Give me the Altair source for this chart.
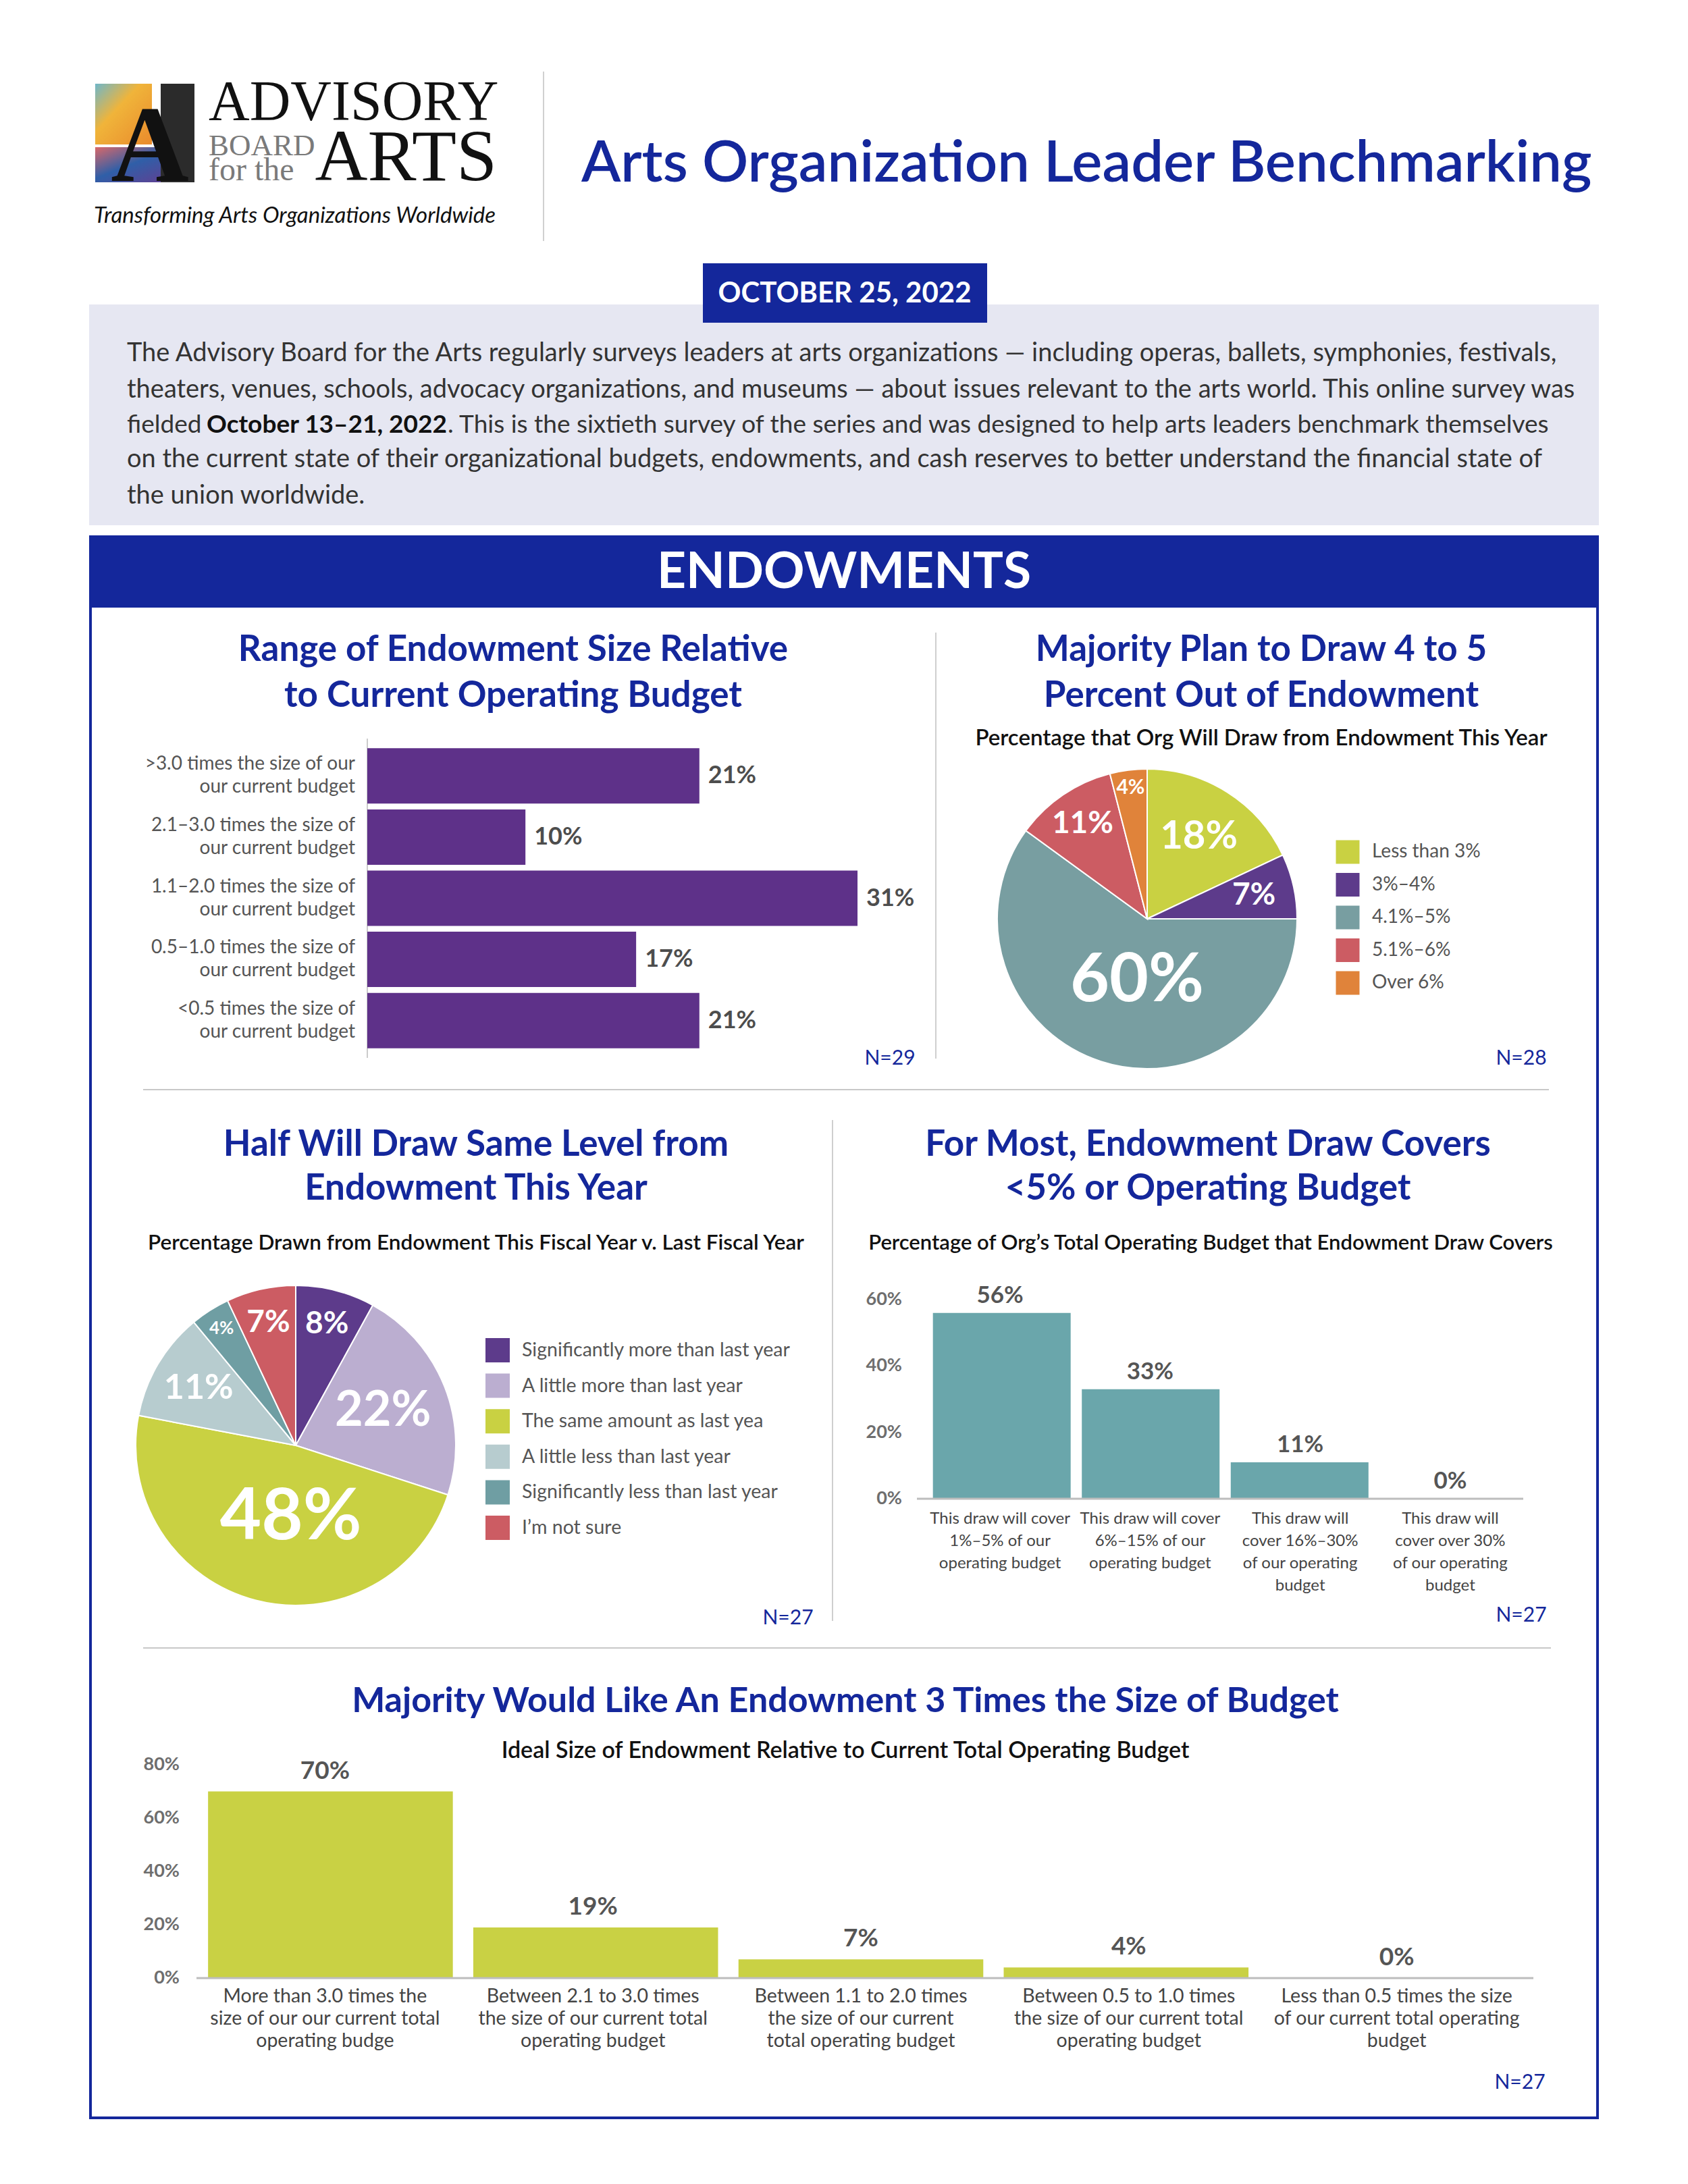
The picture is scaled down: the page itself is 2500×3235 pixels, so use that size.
import math
import pandas as pd
import altair as alt

FONT = "Lato"
SERIF = "Liberation Serif"
BLUE = "#14279b"
TXT = "#333333"
GREY_LBL = "#555555"
OFF = 8
W, H = 2484, 3219

# ---------------- data ----------------
c1_cats = [
    ">3.0 times the size of our|our current budget",
    "2.1–3.0 times the size of|our current budget",
    "1.1–2.0 times the size of|our current  budget",
    "0.5–1.0 times the size of|our current budget",
    "<0.5 times the size of|our current budget",
]
c1_vals = [21, 10, 31, 17, 21]

p2_cats = ["Less than 3%", "3%–4%", "4.1%–5%", "5.1%–6%", "Over 6%"]
p2_vals = [18, 7, 60, 11, 4]
p2_colors = ["#c9d142", "#5d3b8b", "#789ea1", "#cc5c63", "#e0833a"]

p3_cats = [
    "Significantly more than last year",
    "A little more than last year",
    "The same amount as last yea",
    "A little less than last year",
    "Significantly less than last year",
    "I’m not sure",
]
p3_vals = [8, 22, 48, 11, 4, 7]
p3_colors = ["#5d3b8b", "#bbaed0", "#c9d142", "#b7cccf", "#6f9ea3", "#cc5c63"]

c4_cats = [
    "This draw will cover|1%–5% of our|operating budget",
    "This draw will cover|6%–15% of our|operating budget",
    "This draw will|cover 16%–30%|of our operating|budget",
    "This draw will|cover over 30%|of our operating|budget",
]
c4_vals = [56, 33, 11, 0]
c4_ticks = [0, 20, 40, 60]

c5_cats = [
    "More than 3.0 times the|size of our our current total|operating budge",
    "Between 2.1 to 3.0 times|the size of our current total|operating budget",
    "Between 1.1 to 2.0 times|the size of our current|total operating budget",
    "Between 0.5 to 1.0 times|the size of our current total|operating budget",
    "Less than 0.5 times the size|of our current total operating|budget",
]
c5_vals = [70, 19, 7, 4, 0]
c5_ticks = [0, 20, 40, 60, 80]

intro_lines = [
    "The Advisory Board for the Arts regularly surveys leaders at arts organizations — including  operas, ballets, symphonies, festivals,",
    "theaters, venues, schools, advocacy organizations, and museums — about issues relevant to the arts world. This online survey was",
    None,
    "on the current state of their organizational budgets, endowments, and cash reserves to better understand the financial state of",
    "the union worldwide.",
]

ONE = pd.DataFrame({"k": [0]})


def P(v):
    return v - OFF


def text(s, x, y, size, color=TXT, weight="normal", align="center",
         baseline="alphabetic", font=FONT, style="normal"):
    return alt.Chart(ONE).mark_text(
        text=s, fontSize=size, color=color, fontWeight=weight, align=align,
        baseline=baseline, font=font, fontStyle=style,
    ).encode(x=alt.value(P(x)), y=alt.value(P(y)))


def rect(x1, y1, x2, y2, **kw):
    return alt.Chart(ONE).mark_rect(**kw).encode(
        x=alt.value(P(x1)), x2=alt.value(P(x2)),
        y=alt.value(P(y1)), y2=alt.value(P(y2)))


def rule(x1, y1, x2, y2, color="#cfcfcf", width=2):
    return alt.Chart(ONE).mark_rule(color=color, strokeWidth=width).encode(
        x=alt.value(P(x1)), x2=alt.value(P(x2)),
        y=alt.value(P(y1)), y2=alt.value(P(y2)))


layers = []

# ---------------- header ----------------
grad_top = alt.LinearGradient(
    gradient="linear",
    stops=[alt.GradientStop(color="#6fb7c9", offset=0),
           alt.GradientStop(color="#f0b43a", offset=0.4),
           alt.GradientStop(color="#e98a2c", offset=1)],
    x1=0, x2=1, y1=0, y2=1)
grad_bot = alt.LinearGradient(
    gradient="linear",
    stops=[alt.GradientStop(color="#d9686a", offset=0),
           alt.GradientStop(color="#2f5fa8", offset=0.45),
           alt.GradientStop(color="#6a3a8e", offset=1)],
    x1=0, x2=1, y1=0, y2=1)
layers += [
    rect(141, 124, 225, 214, fill=grad_top),
    rect(141, 218, 270, 270, fill=grad_bot),
    rect(238, 124, 288, 270, fill="#2b2b2b"),
    text("A", 222, 268, 160, color="#111111", weight="bold", font=SERIF),
    text("ADVISORY", 309, 178, 84, color="#111111", align="left", font=SERIF),
    text("BOARD", 309, 230, 45, color="#7a7a7a", align="left", font=SERIF),
    text("for the", 309, 267, 48, color="#7a7a7a", align="left", font=SERIF),
    text("ARTS", 736, 267, 108, color="#111111", align="right", font=SERIF),
    text("Transforming Arts Organizations Worldwide", 139, 330, 33,
         color="#111111", align="left", style="italic"),
    rule(805, 106, 805, 357, color="#d0d0d0", width=2),
    text("Arts Organization Leader Benchmarking", 861, 269, 85, color=BLUE,
         weight=600, align="left"),
]

# intro box
layers += [
    rect(132, 451, 2368, 778, color="#e6e7f2"),
    rect(1041, 390, 1462, 478, color=BLUE),
    text("OCTOBER 25, 2022", 1251, 435, 42, color="white", weight="bold",
         baseline="middle"),
]
intro_y = [524, 578, 630, 681, 735]
for s, yy in zip(intro_lines, intro_y):
    if s is not None:
        layers.append(text(s, 188, yy, 38, color=TXT, align="left", baseline="middle"))
layers += [
    text("fielded", 188, intro_y[2], 37, color=TXT, align="left", baseline="middle"),
    text("October 13–21, 2022", 306, intro_y[2], 37, color="#111111", weight="bold",
         align="left", baseline="middle"),
    text(". This is the sixtieth survey of the series and was designed to help arts leaders benchmark themselves",
         663, intro_y[2], 37, color=TXT, align="left", baseline="middle"),
]

# banner + frame
layers += [
    rect(132, 793, 2368, 900, color=BLUE),
    text("ENDOWMENTS", 1250, 848, 75, color="white", weight="bold", baseline="middle"),
    rect(134, 898, 2366, 3137, fill="white", fillOpacity=0, stroke=BLUE, strokeWidth=4),
    rule(1386, 937, 1386, 1568),
    rule(212, 1614, 2294, 1614, color="#c8c8c8"),
    rule(1233, 1659, 1233, 2401),
    rule(212, 2441, 2297, 2441, color="#c8c8c8"),
]

TITLE = 53

# ---------------- chart 1 ----------------
d1 = pd.DataFrame({"cat": c1_cats, "v": c1_vals})
y1s = alt.Scale(domain=c1_cats, range=[P(1104), P(1557)], paddingInner=0.095, paddingOuter=0.0475)
x1s = alt.Scale(domain=[0, 31], range=[P(544), P(1270)], nice=False, zero=True)
layers += [
    text("Range of Endowment Size Relative", 760, 979, TITLE, color=BLUE, weight="bold"),
    text("to Current Operating Budget", 760, 1047, TITLE, color=BLUE, weight="bold"),
    rule(544, 1094, 544, 1567, color="#cccccc", width=2),
    alt.Chart(d1).mark_bar(color="#5e3189").encode(
        y=alt.Y("cat:N", scale=y1s, axis=None),
        x=alt.X("v:Q", scale=x1s, axis=None)),
    alt.Chart(d1).transform_calculate(lines="split(datum.cat, '|')").mark_text(
        align="right", baseline="middle", dy=-17, fontSize=28, color=GREY_LBL, font=FONT,
        lineHeight=34).encode(
        y=alt.Y("cat:N", scale=y1s, axis=None), x=alt.value(P(526)), text="lines:N"),
    alt.Chart(d1).transform_calculate(lab="datum.v + '%'").mark_text(
        align="left", baseline="middle", dx=13, fontSize=36, fontWeight="bold",
        color="#4d4d4d", font=FONT).encode(
        y=alt.Y("cat:N", scale=y1s, axis=None),
        x=alt.X("v:Q", scale=x1s, axis=None), text="lab:N"),
    text("N=29", 1318, 1568, 30, color=BLUE, baseline="middle"),
]


# ---------------- pies ----------------
def pie(cats, vals, colors, cx, cy, r, label_style, leg_x, leg_top, leg_bot, leg_size, leg_font):
    df = pd.DataFrame({"cat": cats, "v": vals, "i": list(range(len(cats)))})
    cs = alt.Scale(domain=cats, range=colors)
    out = [
        alt.Chart(df).mark_arc(radius=r, stroke="white", strokeWidth=2).encode(
            theta=alt.Theta("v:Q", stack=True),
            order=alt.Order("i:Q"),
            color=alt.Color("cat:N", scale=cs, legend=None),
            x=alt.value(P(cx)), y=alt.value(P(cy)))
    ]
    for cat, (rad, size, dx) in zip(cats, label_style):
        out.append(
            alt.Chart(df)
            .transform_window(cum="sum(v)", sort=[alt.SortField("i", order="ascending")])
            .transform_calculate(mid="datum.cum - datum.v / 2", lab="datum.v + '%'")
            .transform_filter(alt.datum.cat == cat)
            .mark_text(radius=rad, fontSize=size, fontWeight="bold", color="white",
                       font=FONT, align="center", baseline="middle", dx=dx)
            .encode(theta=alt.Theta("mid:Q", scale=alt.Scale(domain=[0, 100]), stack=False),
                    text="lab:N", x=alt.value(P(cx)), y=alt.value(P(cy))))
    ls = alt.Scale(type="point", domain=cats, range=[P(leg_top), P(leg_bot)], padding=0)
    out += [
        alt.Chart(df).mark_square(size=leg_size, opacity=1).encode(
            x=alt.value(P(leg_x)), y=alt.Y("cat:N", scale=ls, axis=None),
            color=alt.Color("cat:N", scale=cs, legend=None)),
        alt.Chart(df).mark_text(align="left", baseline="middle", fontSize=leg_font,
                                color=GREY_LBL, font=FONT).encode(
            x=alt.value(P(leg_x + 36)), y=alt.Y("cat:N", scale=ls, axis=None), text="cat:N"),
    ]
    return out


layers += [
    text("Majority Plan to Draw 4 to 5", 1868, 979, TITLE, color=BLUE, weight="bold"),
    text("Percent Out of Endowment", 1868, 1047, TITLE, color=BLUE, weight="bold"),
    text("Percentage that Org Will Draw from Endowment This Year", 1868, 1104, 33,
         color="#111111", weight=600),
]
layers += pie(p2_cats, p2_vals, p2_colors, 1699, 1361, 222,
              [(143, 58, 0), (162, 46, 0), (97, 100, 15), (170, 46, 0), (196, 30, 0)],
              1996, 1262, 1456, 1225, 28)
layers.append(text("N=28", 2253, 1568, 30, color=BLUE, baseline="middle"))

layers += [
    text("Half Will Draw Same Level from", 705, 1712, TITLE, color=BLUE, weight="bold"),
    text("Endowment This Year", 705, 1777, TITLE, color=BLUE, weight="bold"),
    text("Percentage Drawn from Endowment This Fiscal Year v. Last Fiscal Year", 705, 1851, 31.5,
         color="#111111", weight=600),
]
layers += pie(p3_cats, p3_vals, p3_colors, 438, 2141, 237,
              [(186, 46, 0), (139, 72, 0), (110, 106, 20), (167, 52, 0), (205, 26, 0), (186, 46, 0)],
              737, 2000, 2263, 1296, 28.5)
layers.append(text("N=27", 1167, 2397, 30, color=BLUE, baseline="middle"))

# ---------------- chart 4 ----------------
d4 = pd.DataFrame({"cat": c4_cats, "v": c4_vals})
x4s = alt.Scale(domain=c4_cats, range=[P(1370), P(2259)], paddingInner=0.075, paddingOuter=0.053)
y4s = alt.Scale(domain=[0, 60], range=[P(2220), P(1925)], nice=False, zero=True)
t4 = pd.DataFrame({"t": c4_ticks})
layers += [
    text("For Most, Endowment Draw Covers", 1789, 1712, TITLE, color=BLUE, weight="bold"),
    text("<5% or Operating Budget", 1789, 1777, TITLE, color=BLUE, weight="bold"),
    text("Percentage of Org’s Total Operating Budget that Endowment Draw Covers", 1793, 1851, 31,
         color="#111111", weight=600),
    alt.Chart(d4).mark_bar(color="#6aa6ab").encode(
        x=alt.X("cat:N", scale=x4s, axis=None),
        y=alt.Y("v:Q", scale=y4s, axis=None)),
    rule(1358, 2220, 2256, 2220, color="#bdbdbd", width=3),
    alt.Chart(d4).transform_calculate(lab="datum.v + '%'").mark_text(
        baseline="middle", dy=-26, fontSize=35, fontWeight="bold", color=GREY_LBL,
        font=FONT).encode(
        x=alt.X("cat:N", scale=x4s, axis=None),
        y=alt.Y("v:Q", scale=y4s, axis=None), text="lab:N"),
    alt.Chart(d4).transform_calculate(lines="split(datum.cat, '|')").mark_text(
        baseline="top", align="center", fontSize=24, color="#444444", font=FONT,
        lineHeight=33).encode(
        x=alt.X("cat:N", scale=x4s, axis=None), y=alt.value(P(2238)), text="lines:N"),
    alt.Chart(t4).transform_calculate(lab="datum.t + '%'").mark_text(
        align="right", baseline="middle", fontSize=27, fontWeight="bold", color="#6e6e6e",
        font=FONT).encode(
        x=alt.value(P(1336)), y=alt.Y("t:Q", scale=y4s, axis=None), text="lab:N"),
    text("N=27", 2253, 2393, 30, color=BLUE, baseline="middle"),
]

# ---------------- chart 5 ----------------
d5 = pd.DataFrame({"cat": c5_cats, "v": c5_vals})
x5s = alt.Scale(domain=c5_cats, range=[P(283), P(2267)], paddingInner=0.077, paddingOuter=0.064)
y5s = alt.Scale(domain=[0, 80], range=[P(2930), P(2614)], nice=False, zero=True)
t5 = pd.DataFrame({"t": c5_ticks})
layers += [
    text("Majority Would Like An Endowment 3 Times the Size of Budget", 1252, 2536, 52,
         color=BLUE, weight="bold"),
    text("Ideal Size of Endowment Relative to Current Total Operating Budget", 1252, 2604, 34,
         color="#111111", weight=600),
    alt.Chart(d5).mark_bar(color="#c9d144").encode(
        x=alt.X("cat:N", scale=x5s, axis=None),
        y=alt.Y("v:Q", scale=y5s, axis=None)),
    rule(291, 2930, 2271, 2930, color="#bdbdbd", width=3),
    alt.Chart(d5).transform_calculate(lab="datum.v + '%'").mark_text(
        baseline="middle", dy=-30, fontSize=37, fontWeight="bold", color=GREY_LBL,
        font=FONT).encode(
        x=alt.X("cat:N", scale=x5s, axis=None),
        y=alt.Y("v:Q", scale=y5s, axis=None), text="lab:N"),
    alt.Chart(d5).transform_calculate(lines="split(datum.cat, '|')").mark_text(
        baseline="top", align="center", fontSize=28.5, color="#444444", font=FONT,
        lineHeight=33).encode(
        x=alt.X("cat:N", scale=x5s, axis=None), y=alt.value(P(2943)), text="lines:N"),
    alt.Chart(t5).transform_calculate(lab="datum.t + '%'").mark_text(
        align="right", baseline="middle", fontSize=27, fontWeight="bold", color="#6e6e6e",
        font=FONT).encode(
        x=alt.value(P(266)), y=alt.Y("t:Q", scale=y5s, axis=None), text="lab:N"),
    text("N=27", 2251, 3085, 30, color=BLUE, baseline="middle"),
]

chart = alt.layer(*layers).resolve_scale(
    x="independent", y="independent", color="independent", theta="independent"
).properties(
    width=W, height=H, padding=0, autosize="none", background="white"
).configure_view(strokeWidth=0)

chart.save("out.html", embed_options={"renderer": "svg", "actions": False})
